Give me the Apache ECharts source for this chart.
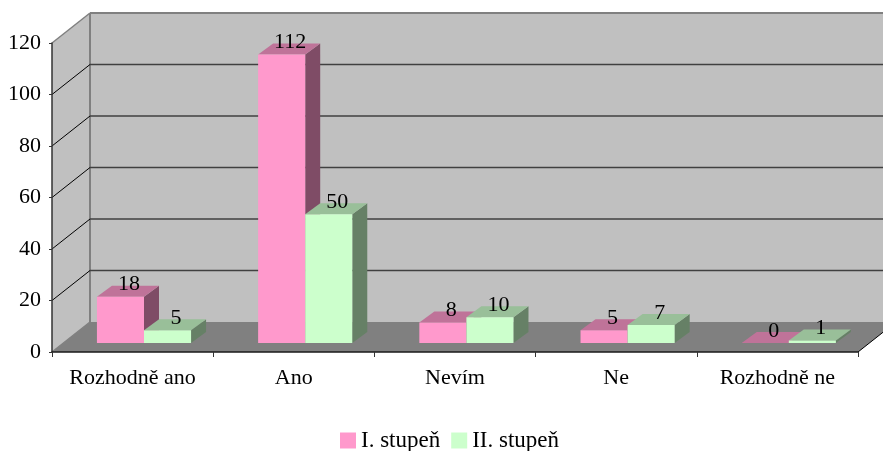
<!DOCTYPE html>
<html>
<head>
<meta charset="utf-8">
<script src="https://cdn.jsdelivr.net/npm/echarts@6/dist/echarts.min.js"></script>
<style>
  html, body { margin: 0; padding: 0; background: #fff; }
  #chart { width: 883px; height: 451px; }
</style>
</head>
<body>
<div id="chart"></div>
<script>
var categories = ['Rozhodně ano', 'Ano', 'Nevím', 'Ne', 'Rozhodně ne'];
var stupen1 = [18, 112, 8, 5, 0];
var stupen2 = [5, 50, 10, 7, 1];
var yTicks = [20, 40, 60, 80, 100, 120];

// posun zadni steny oproti prednimu okraji (falesne 3D)
var DEPTH_X = 38;
var DEPTH_Y = 30;
var BAR_SHIFT_X = 11.4;   // sloupce nestoji na prednim okraji podlahy
var BAR_SHIFT_Y = 9;
var BAR_DEPTH_X = 15;
var BAR_DEPTH_Y = 11;
var BAR_RATIO = 0.292;
var FONT = '"Liberation Serif", serif';

function poly(points, fill) {
  return { type: 'polygon', shape: { points: points }, style: { fill: fill, stroke: null } };
}

function line(x1, y1, x2, y2, color, width) {
  return {
    type: 'line',
    shape: { x1: x1, y1: y1, x2: x2, y2: y2 },
    style: { stroke: color, lineWidth: width }
  };
}

// podlaha a steny
function renderWalls(params) {
  var g = params.coordSys;
  var l = g.x, r = g.x + g.width, t = g.y, b = g.y + g.height;
  return {
    type: 'group',
    children: [
      poly([[l + DEPTH_X, t - DEPTH_Y], [r + DEPTH_X, t - DEPTH_Y], [r + DEPTH_X, b - DEPTH_Y], [l + DEPTH_X, b - DEPTH_Y]], '#c0c0c0'),
      poly([[l, t], [l + DEPTH_X, t - DEPTH_Y], [l + DEPTH_X, b - DEPTH_Y], [l, b]], '#c0c0c0'),
      poly([[l, b], [r, b], [r + DEPTH_X, b - DEPTH_Y], [l + DEPTH_X, b - DEPTH_Y]], '#808080'),
      line(l + DEPTH_X, t - DEPTH_Y, l + DEPTH_X, b - DEPTH_Y, '#808080', 2),
      line(l + DEPTH_X, t - DEPTH_Y, r + DEPTH_X, t - DEPTH_Y, '#808080', 2),
      line(l, t, l + DEPTH_X, t - DEPTH_Y, '#808080', 1.5),
      line(l, b, l + DEPTH_X, b - DEPTH_Y, '#808080', 1.5),
      line(r, b, r + DEPTH_X, b - DEPTH_Y, '#000', 1)
    ]
  };
}

// vodorovne mrizky na zadni a bocni stene
function renderGrid(params, api) {
  var g = params.coordSys;
  var y = api.coord([0, api.value(1)])[1];
  var isTop = api.value(1) === yTicks[yTicks.length - 1];
  if (isTop) return null;
  return {
    type: 'group',
    children: [
      line(g.x, y, g.x + DEPTH_X, y - DEPTH_Y, '#000', 1),
      line(g.x + DEPTH_X, y - DEPTH_Y, g.x + g.width + DEPTH_X, y - DEPTH_Y, '#404040', 1.5)
    ]
  };
}

function makeBarRender(side, front, sideColor, topColor) {
  return function (params, api) {
    var idx = api.value(0);
    var val = api.value(1);
    var top = api.coord([idx, val]);
    var base = api.coord([idx, 0]);
    var w = api.size([1, 0])[0] * BAR_RATIO;
    var x0 = top[0] + BAR_SHIFT_X + (side < 0 ? -w : 0);
    var x1 = x0 + w;
    var yb = base[1] - BAR_SHIFT_Y;
    var yt = top[1] - BAR_SHIFT_Y;
    var dx = BAR_DEPTH_X, dy = BAR_DEPTH_Y;
    return {
      type: 'group',
      children: [
        poly([[x1, yb], [x1 + dx, yb - dy], [x1 + dx, yt - dy], [x1, yt]], sideColor),
        poly([[x0, yt], [x1, yt], [x1 + dx, yt - dy], [x0 + dx, yt - dy]], topColor),
        poly([[x0, yb], [x1, yb], [x1, yt], [x0, yt]], front),
        {
          type: 'text',
          z2: 10,
          style: {
            x: (x0 + x1 + dx) / 2 + 1,
            y: yt - dy - 1,
            text: String(val),
            fill: '#000',
            font: '22px ' + FONT,
            textAlign: 'center',
            textVerticalAlign: 'middle'
          }
        }
      ]
    };
  };
}

function toPairs(values) {
  return values.map(function (v, i) { return [i, v]; });
}

var chart = echarts.init(document.getElementById('chart'), null, { renderer: 'canvas' });
chart.setOption({
  animation: false,
  backgroundColor: '#fff',
  textStyle: { fontFamily: FONT },
  grid: { left: 52, right: 25, top: 43, bottom: 99, containLabel: false },
  legend: {
    data: ['I. stupeň', 'II. stupeň'],
    left: 340,
    top: 429,
    padding: 0,
    icon: 'rect',
    itemWidth: 16,
    itemHeight: 16,
    itemGap: 11,
    textStyle: { fontFamily: FONT, fontSize: 23, color: '#000' }
  },
  xAxis: {
    type: 'category',
    data: categories,
    z: 5,
    axisLine: { lineStyle: { color: '#1a1a1a', width: 1.5 } },
    axisTick: { show: true, interval: 0, length: 5, lineStyle: { color: '#333' } },
    axisLabel: { interval: 0, hideOverlap: false, fontFamily: FONT, fontSize: 22, color: '#000', margin: 15 },
    splitLine: { show: false }
  },
  yAxis: {
    type: 'value',
    min: 0,
    max: 120,
    interval: 20,
    z: 5,
    axisLine: { show: true, lineStyle: { color: '#333', width: 1.5 } },
    axisTick: { show: true, length: 3, lineStyle: { color: '#333' } },
    axisLabel: { fontFamily: FONT, fontSize: 22, color: '#000', margin: 11 },
    splitLine: { show: false }
  },
  series: [
    { type: 'custom', name: 'walls', silent: true, z: 1, data: [[0, 0]], renderItem: renderWalls },
    { type: 'custom', name: 'grid', silent: true, z: 1, data: toPairs(yTicks).map(function (p) { return [0, p[1]]; }), renderItem: renderGrid },
    {
      type: 'custom', name: 'I. stupeň', z: 2,
      itemStyle: { color: '#ff99cc' },
      data: toPairs(stupen1),
      renderItem: makeBarRender(-1, '#ff99cc', '#7f4c66', '#bf7399')
    },
    {
      type: 'custom', name: 'II. stupeň', z: 2,
      itemStyle: { color: '#ccffcc' },
      data: toPairs(stupen2),
      renderItem: makeBarRender(1, '#ccffcc', '#668066', '#99bf99')
    }
  ]
});

window.addEventListener('resize', function () { chart.resize(); });
</script>
</body>
</html>
